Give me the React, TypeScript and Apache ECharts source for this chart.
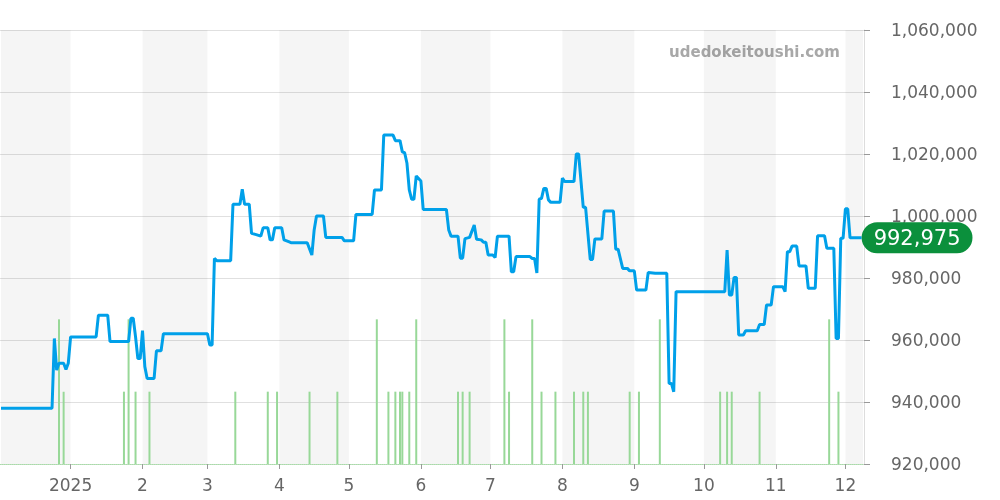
import React, { useEffect, useRef } from "react";
import * as echarts from "echarts";

const priceDates: string[] = [
  "2024-12-02", "2024-12-24", "2024-12-25", "2024-12-26", "2024-12-27", "2024-12-29", "2024-12-30", "2024-12-31",
  "2025-01-01", "2025-01-12", "2025-01-13", "2025-01-17", "2025-01-18", "2025-01-26", "2025-01-27", "2025-01-28",
  "2025-01-29", "2025-01-30", "2025-01-31", "2025-02-01", "2025-02-02", "2025-02-03", "2025-02-06", "2025-02-07",
  "2025-02-09", "2025-02-10", "2025-03-01", "2025-03-02", "2025-03-03", "2025-03-04", "2025-03-05", "2025-03-11",
  "2025-03-12", "2025-03-15", "2025-03-16", "2025-03-17", "2025-03-19", "2025-03-20", "2025-03-22", "2025-03-24",
  "2025-03-25", "2025-03-27", "2025-03-28", "2025-03-29", "2025-03-30", "2025-04-02", "2025-04-03", "2025-04-05",
  "2025-04-06", "2025-04-13", "2025-04-15", "2025-04-16", "2025-04-17", "2025-04-20", "2025-04-21", "2025-04-28",
  "2025-04-29", "2025-05-03", "2025-05-04", "2025-05-11", "2025-05-12", "2025-05-15", "2025-05-16", "2025-05-20",
  "2025-05-21", "2025-05-23", "2025-05-24", "2025-05-25", "2025-05-26", "2025-05-27", "2025-05-28", "2025-05-29",
  "2025-05-30", "2025-06-01", "2025-06-02", "2025-06-12", "2025-06-13", "2025-06-14", "2025-06-17", "2025-06-18",
  "2025-06-19", "2025-06-20", "2025-06-22", "2025-06-24", "2025-06-25", "2025-06-27", "2025-06-28", "2025-06-29",
  "2025-06-30", "2025-07-02", "2025-07-03", "2025-07-04", "2025-07-09", "2025-07-10", "2025-07-11", "2025-07-12",
  "2025-07-18", "2025-07-19", "2025-07-20", "2025-07-21", "2025-07-22", "2025-07-23", "2025-07-24", "2025-07-25",
  "2025-07-26", "2025-07-27", "2025-07-31", "2025-08-01", "2025-08-02", "2025-08-06", "2025-08-07", "2025-08-08",
  "2025-08-10", "2025-08-11", "2025-08-13", "2025-08-14", "2025-08-15", "2025-08-18", "2025-08-19", "2025-08-23",
  "2025-08-24", "2025-08-25", "2025-08-27", "2025-08-29", "2025-08-30", "2025-09-01", "2025-09-02", "2025-09-06",
  "2025-09-07", "2025-09-10", "2025-09-15", "2025-09-16", "2025-09-17", "2025-09-18", "2025-09-19", "2025-10-10",
  "2025-10-11", "2025-10-12", "2025-10-13", "2025-10-14", "2025-10-15", "2025-10-16", "2025-10-18", "2025-10-19",
  "2025-10-24", "2025-10-25", "2025-10-27", "2025-10-28", "2025-10-30", "2025-10-31", "2025-11-04", "2025-11-05",
  "2025-11-06", "2025-11-07", "2025-11-08", "2025-11-10", "2025-11-11", "2025-11-14", "2025-11-15", "2025-11-18",
  "2025-11-19", "2025-11-22", "2025-11-23", "2025-11-26", "2025-11-27", "2025-11-28", "2025-11-29", "2025-11-30",
  "2025-12-01", "2025-12-02", "2025-12-03", "2025-12-08",
];

const priceValues: number[] = [
  938000, 938000, 960500, 950300, 952500, 952500, 950500, 952500,
  961000, 961000, 968000, 968000, 959500, 959500, 967000, 967000,
  961000, 954000, 954000, 963000, 951400, 947600, 947600, 956500,
  956500, 962000, 962000, 958400, 958400, 986300, 985600, 985600,
  1003800, 1003800, 1008600, 1003800, 1003800, 994400, 994000, 993500,
  996200, 996200, 992300, 992300, 996200, 996200, 992300, 991700,
  991400, 991400, 987400, 995500, 1000000, 1000000, 993100, 993100,
  992000, 992000, 1000500, 1000500, 1008400, 1008400, 1026100, 1026100,
  1024300, 1024300, 1020700, 1020400, 1017000, 1008400, 1005400, 1005400,
  1012900, 1011300, 1002100, 1002100, 995500, 993500, 993500, 986400,
  986400, 992700, 993100, 997100, 992500, 992300, 991500, 991500,
  987400, 987400, 986600, 993500, 993500, 982000, 982000, 986900,
  986900, 986300, 986300, 981600, 1005400, 1005700, 1008900, 1008900,
  1005200, 1004400, 1004400, 1012200, 1011100, 1011100, 1020000, 1020000,
  1002800, 1002800, 986000, 986000, 992600, 992600, 1001600, 1001600,
  989300, 989300, 983100, 983100, 982300, 982300, 976100, 976100,
  981800, 981500, 981500, 946000, 946000, 943300, 975600, 975600,
  989000, 974500, 974500, 980200, 980200, 961600, 961600, 963000,
  963000, 965000, 965000, 971300, 971300, 977200, 977200, 975600,
  988500, 988500, 990300, 990300, 983900, 983900, 976700, 976700,
  993600, 993600, 989600, 989600, 960500, 960500, 992800, 992800,
  1002300, 1002300, 992975, 992975,
];

const volumeDates: string[] = [
  "2024-12-27", "2024-12-29", "2025-01-24", "2025-01-26", "2025-01-29", "2025-02-04", "2025-03-13", "2025-03-27",
  "2025-03-31", "2025-04-14", "2025-04-26", "2025-05-13", "2025-05-18", "2025-05-21", "2025-05-23", "2025-05-24",
  "2025-05-27", "2025-05-30", "2025-06-17", "2025-06-19", "2025-06-22", "2025-07-07", "2025-07-09", "2025-07-19",
  "2025-07-23", "2025-07-29", "2025-08-06", "2025-08-10", "2025-08-12", "2025-08-30", "2025-09-03", "2025-09-12",
  "2025-10-08", "2025-10-11", "2025-10-13", "2025-10-25", "2025-11-24", "2025-11-28",
];

const volumeValues: number[] = [
  2, 1, 1, 2, 1, 1, 1, 1,
  1, 1, 1, 2, 1, 1, 1, 1,
  1, 2, 1, 1, 1, 2, 1, 2,
  1, 1, 1, 1, 1, 1, 1, 2,
  1, 1, 1, 1, 2, 1,
];

// shaded (alternate) months
const bandStarts: string[] = ["2024-12-02", "2025-02-01", "2025-04-01", "2025-06-01", "2025-08-01", "2025-10-01", "2025-12-01"];
const bandEnds: string[] = ["2025-01-01", "2025-03-01", "2025-05-01", "2025-07-01", "2025-09-01", "2025-11-01", "2025-12-08T14:00:00"];

const axisMin = "2024-12-02";
const axisMax = "2025-12-08T14:00:00";
const watermark = "udedokeitoushi.com";

export default function App() {
  const ref = useRef<HTMLDivElement>(null);

  useEffect(() => {
    if (!ref.current) return;
    const chart = echarts.init(ref.current, undefined, { renderer: "svg" });

    const priceData = priceDates.map((d, i) => [d, priceValues[i]]);
    const volumeData = volumeDates.map((d, i) => [d, volumeValues[i]]);
    const bands = bandStarts.map((s, i) => [{ xAxis: s }, { xAxis: bandEnds[i] }]);

    chart.setOption({
      animation: false,
      textStyle: { fontFamily: "DejaVu Sans" },
      grid: { left: 0, right: 136, top: 30, bottom: 36, containLabel: false },
      xAxis: {
        type: "time",
        min: axisMin,
        max: axisMax,
        minInterval: 28 * 86400000,
        maxInterval: 31 * 86400000,
        axisLine: { show: true, lineStyle: { color: "#a8dca8", type: "dotted", width: 1 } },
        axisTick: { show: true, length: 5, lineStyle: { color: "#999" } },
        splitLine: { show: false },
        axisLabel: {
          color: "#666",
          fontSize: 17,
          margin: 12,
          showMinLabel: false,
          showMaxLabel: false,
          formatter: (val: number) => {
            const d = new Date(val);
            return d.getMonth() === 0 ? String(d.getFullYear()) : String(d.getMonth() + 1);
          },
        },
      },
      yAxis: [
        {
          type: "value",
          position: "right",
          min: 920000,
          max: 1060000,
          interval: 20000,
          axisLine: { show: true, lineStyle: { color: "#ddd" } },
          axisTick: { show: true, length: 6, lineStyle: { color: "#999" } },
          splitLine: { show: true, lineStyle: { color: "#e0e0e0" } },
          axisLabel: {
            color: "#666",
            fontSize: 17,
            margin: 27,
            formatter: (v: number) => v.toLocaleString("en-US"),
          },
        },
        {
          type: "value",
          min: 0,
          max: 6,
          show: false,
          splitLine: { show: false },
        },
      ],
      graphic: [
        {
          type: "text",
          x: 840,
          y: 52,
          style: {
            text: watermark,
            fill: "#a8a8a8",
            font: "bold 15px 'DejaVu Sans'",
            textAlign: "right",
            textVerticalAlign: "middle",
          },
          z: 1,
        },
      ],
      series: [
        {
          type: "bar",
          yAxisIndex: 1,
          data: volumeData,
          barWidth: 2,
          itemStyle: { color: "#98d898" },
          silent: true,
          z: 2,
          markArea: {
            silent: true,
            itemStyle: { color: "rgba(0,0,0,0.04)" },
            data: bands,
          },
        },
        {
          type: "line",
          data: priceData,
          showSymbol: false,
          symbol: "none",
          lineStyle: { color: "#00a0e9", width: 3 },
          itemStyle: { color: "#00a0e9" },
          z: 3,
          endLabel: {
            show: true,
            distance: 0,
            formatter: (p: any) => Number(p.value[1]).toLocaleString("en-US"),
            color: "#fff",
            fontSize: 21,
            backgroundColor: "#0b903c",
            borderRadius: 16,
            padding: [5, 12, 5, 12],
          },
        },
      ],
    });

    return () => chart.dispose();
  }, []);

  return <div ref={ref} style={{ position: "fixed", left: 0, top: 0, width: 1000, height: 500 }} />;
}
